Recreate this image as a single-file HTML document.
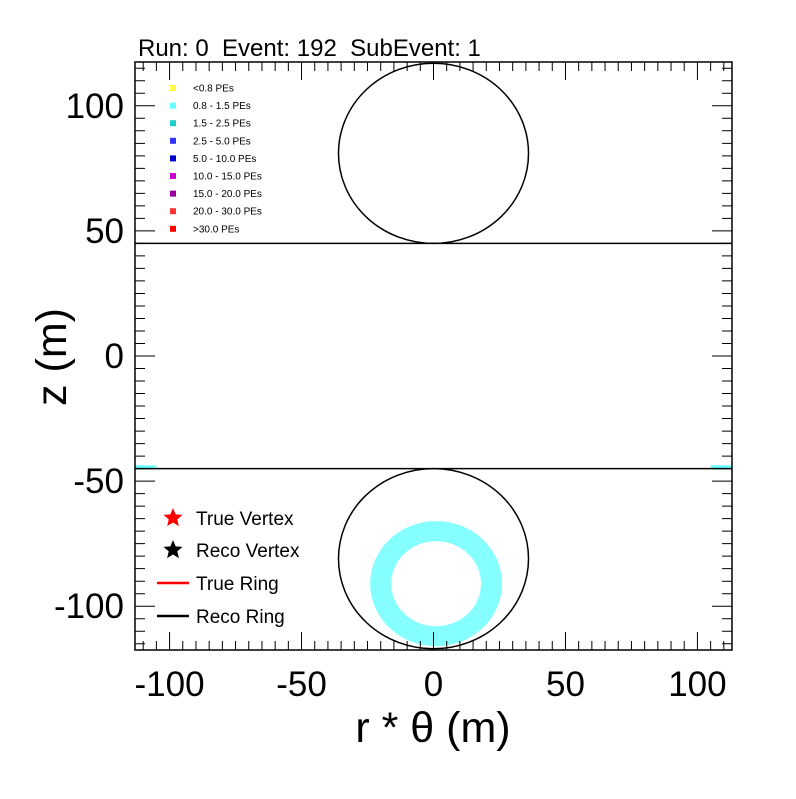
<!DOCTYPE html>
<html><head><meta charset="utf-8"><style>
body{margin:0;background:#fff}
svg text{font-family:"Liberation Sans",sans-serif;white-space:pre}
</style></head><body>
<svg id="c" width="796" height="794" viewBox="0 0 796 794"></svg>
<script>
const xTicks=[-100,-50,0,50,100];
const yTicks=[-100,-50,0,50,100];
const peLabels=["<0.8 PEs","0.8 - 1.5 PEs","1.5 - 2.5 PEs","2.5 - 5.0 PEs","5.0 - 10.0 PEs","10.0 - 15.0 PEs","15.0 - 20.0 PEs","20.0 - 30.0 PEs",">30.0 PEs"];
const peColors=["#ffff44","#66ffff","#22cccc","#3333ff","#0000cc","#cc00cc","#990099","#ff3333","#ff0000"];
const capCenters=[81,-81];
const capRadius=[36];
const barrelEdges=[45,-45];
const hitRing=[1,-91,25,17];
const edgeHits=[[-113,-105,-44.5],[105,113,-44.5]];
const X0=-113.1,X1=113.1,Y0=-117.5,Y1=117.5;
const L=135,R=732,T=62,B=650;
const sx=v=>L+(v-X0)/(X1-X0)*(R-L);
const sy=v=>B-(v-Y0)/(Y1-Y0)*(B-T);
const svg=document.getElementById('c');
const NS="http://www.w3.org/2000/svg";
function mk(tag,attrs,parent){const e=document.createElementNS(NS,tag);for(const k in attrs)e.setAttribute(k,attrs[k]);(parent||svg).appendChild(e);return e;}
const cx=sx(hitRing[0]),cy=sy(hitRing[1]);
const kx=(R-L)/(X1-X0),ky=(B-T)/(Y1-Y0);
const ro=hitRing[2],ri=hitRing[3];
let ring=mk('path',{d:`M${cx-ro*kx},${cy} a${ro*kx},${ro*ky} 0 1,0 ${2*ro*kx},0 a${ro*kx},${ro*ky} 0 1,0 ${-2*ro*kx},0 Z M${cx-ri*kx},${cy} a${ri*kx},${ri*ky} 0 1,1 ${2*ri*kx},0 a${ri*kx},${ri*ky} 0 1,1 ${-2*ri*kx},0 Z`,fill:'#66ffff','fill-rule':'evenodd',opacity:'0.8'});


edgeHits.forEach(h=>{let r=mk('rect',{x:sx(h[0]),y:sy(h[2])-2,width:sx(h[1])-sx(h[0]),height:4,fill:'#66ffff'});

});
capCenters.forEach(c=>{let e=mk('ellipse',{cx:sx(0),cy:sy(c),rx:capRadius[0]*kx,ry:capRadius[0]*ky,fill:'none',stroke:'#000','stroke-width':1.5});

});
barrelEdges.forEach(z=>{let l=mk('line',{x1:L,x2:R,y1:sy(z),y2:sy(z),stroke:'#000','stroke-width':1.5});

});
let fr=mk('rect',{x:L,y:T,width:R-L,height:B-T,fill:'none',stroke:'#000','stroke-width':1.5});


let tk='';
for(let v=-110;v<=110;v+=5){const x=sx(v);const len=(v%50===0)?18:9;tk+=`M${x},${B}v${-len}M${x},${T}v${len}`;}
for(let v=-115;v<=115;v+=5){const y=sy(v);const len=(v%50===0)?20:10;tk+=`M${L},${y}h${len}M${R},${y}h${-len}`;}
let tp=mk('path',{d:tk,stroke:'#000','stroke-width':1,fill:'none'});


xTicks.forEach(v=>{let t=mk('text',{x:sx(v),y:696,'font-size':35,'text-anchor':'middle'});t.textContent=v;

});
yTicks.forEach(v=>{let t=mk('text',{x:124,y:sy(v)+12,'font-size':35,'text-anchor':'end'});t.textContent=v;

});
let xt=mk('text',{x:433,y:742,'font-size':43,'text-anchor':'middle'});xt.textContent='r * θ (m)';


let yt=mk('text',{x:0,y:0,'font-size':43,'text-anchor':'middle',transform:'translate(66,357) rotate(-90)'});yt.textContent='z (m)';


let ti=mk('text',{x:138,y:56,'font-size':24});ti.textContent='Run: 0  Event: 192  SubEvent: 1';


peLabels.forEach((lab,i)=>{const y=88+17.6*i;
let m=mk('rect',{x:170,y:y-3,width:6,height:6,fill:peColors[i]});


let t=mk('text',{x:193,y:y+3.5,'font-size':10});t.textContent=lab;

});
function star(x,y,r,col){let p='';for(let i=0;i<10;i++){const a=-Math.PI/2+i*Math.PI/5;const rr=i%2?r*0.45:r;p+=(i?'L':'M')+(x+rr*Math.cos(a))+','+(y+rr*Math.sin(a));}return mk('path',{d:p+'Z',fill:col});}
const leg=[["True Vertex","star","#ff0000",518],["Reco Vertex","star","#000",550],["True Ring","line","#ff0000",583],["Reco Ring","line","#000",616]];
leg.forEach(e=>{let m;if(e[1]==='star')m=star(173,e[3],10,e[2]);else m=mk('line',{x1:157,x2:189,y1:e[3],y2:e[3],stroke:e[2],'stroke-width':2.5});


let t=mk('text',{x:196,y:e[3]+7,'font-size':19});t.textContent=e[0];

});
</script>
</body></html>
